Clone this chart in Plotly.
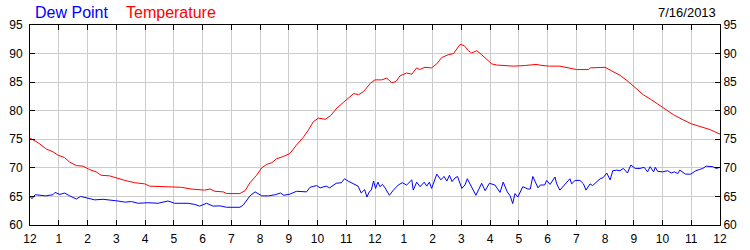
import plotly.graph_objects as go

# ---- data (hour of day, value) ----
temp_hours = [0.0, 0.28, 0.57, 0.8, 0.98, 1.2, 1.38, 1.61, 1.84, 2.07, 2.3, 2.48, 2.77, 3.0, 3.3,
              3.64, 3.99, 4.16, 4.91, 5.26, 5.6, 6.07, 6.26, 6.43, 6.72, 6.84, 7.3, 7.48, 7.65, 7.88,
              8.06, 8.23, 8.41, 8.58, 8.76, 8.93, 9.04, 9.27, 9.5, 9.68, 9.86, 10.03, 10.27, 10.45,
              10.68, 10.91, 11.08, 11.26, 11.43, 11.61, 11.84, 12.0, 12.23, 12.41, 12.58, 12.73,
              12.87, 13.1, 13.28, 13.45, 13.55, 13.74, 13.97, 14.15, 14.32, 14.55, 14.73, 14.87,
              14.96, 15.1, 15.25, 15.36, 15.54, 15.71, 15.89, 16.06, 16.23, 16.46, 16.81, 17.2,
              17.6, 17.84, 18.07, 18.43, 18.78, 19.01, 19.42, 19.5, 20.0, 20.23, 20.52, 20.81,
              21.04, 21.33, 21.62, 22.03, 22.38, 22.72, 23.01, 23.3, 23.65, 24.0]
temperature = [75.2, 74.4, 73.3, 72.8, 72.2, 71.8, 71.0, 70.4, 70.3, 69.7, 69.3, 68.7, 68.6, 68.2, 67.8,
               67.4, 67.2, 66.8, 66.7, 66.6, 66.3, 66.1, 66.3, 65.9, 65.8, 65.5, 65.5, 66.0, 67.4, 68.7,
               70.0, 70.6, 70.9, 71.6, 71.9, 72.2, 72.5, 74.0, 75.3, 76.6, 78.1, 78.7, 78.5, 79.1,
               80.5, 81.5, 82.2, 83.0, 82.8, 83.4, 84.8, 85.4, 85.4, 85.7, 84.9, 85.1,
               86.1, 86.6, 86.4, 87.5, 87.2, 87.6, 87.5, 88.2, 89.3, 89.8, 90.0, 91.1,
               91.6, 91.4, 90.5, 90.1, 90.5, 89.8, 89.0, 88.2, 88.0, 87.9, 87.8, 87.9,
               88.1, 87.9, 87.8, 87.8, 87.4, 87.2, 87.2, 87.5, 87.6, 87.0, 86.2, 85.1,
               84.1, 82.8, 81.9, 80.45, 79.3, 78.4, 77.7, 77.25, 76.7, 75.9]

dew_hours = [0.0, 0.07, 0.18, 0.5, 0.54, 0.8, 0.87, 1.04, 1.2, 1.38, 1.61, 1.76, 1.96, 2.25, 2.54,
             2.83, 3.06, 3.3, 3.53, 3.76, 4.1, 4.45, 4.8, 5.03, 5.5, 5.73, 5.9, 6.14, 6.37, 6.61,
             6.84, 7.3, 7.42, 7.65, 7.83, 8.06, 8.3, 8.53, 8.71, 8.83, 9.04, 9.27, 9.62, 9.74,
             9.97, 10.09, 10.3, 10.42, 10.65, 10.83, 10.94, 11.06, 11.23, 11.41, 11.52, 11.64,
             11.72, 11.8, 11.87, 11.95, 12.02, 12.1, 12.17, 12.26, 12.35, 12.5, 12.64, 12.81,
             12.95, 13.1, 13.28, 13.33, 13.45, 13.57, 13.71, 13.8, 13.89, 13.97, 14.15, 14.29,
             14.4, 14.5, 14.59, 14.68, 14.78, 14.87, 15.02, 15.13, 15.21, 15.36, 15.51, 15.71,
             15.83, 15.98, 16.17, 16.35, 16.46, 16.6, 16.7, 16.79, 16.87, 16.97, 17.14, 17.32,
             17.4, 17.49, 17.67, 17.75, 17.9, 17.97, 18.09, 18.26, 18.32, 18.43, 18.61, 18.78,
             18.84, 18.96, 19.13, 19.25, 19.34, 19.48, 19.57, 19.71, 19.83, 19.94, 20.06, 20.18,
             20.27, 20.41, 20.52, 20.64, 20.78, 20.9, 21.05, 21.22, 21.36, 21.48, 21.57, 21.69,
             21.75, 21.83, 22.0, 22.18, 22.3, 22.41, 22.53, 22.6, 22.8, 22.98, 23.16, 23.28,
             23.4, 23.52, 23.64, 23.75, 23.87, 24.0]
dew_point = [65.0, 64.6, 65.3, 65.2, 65.1, 65.3, 65.7, 65.35, 65.6, 65.1, 64.55, 65.0, 64.7, 64.4, 64.5,
             64.4, 64.2, 64.0, 64.1, 63.8, 63.9, 63.8, 64.2, 63.8, 63.8, 63.6, 63.3, 63.8, 63.3, 63.35,
             63.1, 63.1, 63.5, 65.1, 65.8, 65.1, 65.1, 65.3, 65.6, 65.2, 65.4, 65.9, 65.8, 66.6,
             66.9, 66.5, 66.8, 66.5, 67.3, 67.4, 68.1, 67.7, 67.2, 66.8, 65.6, 66.2,
             64.9, 65.8, 66.1, 67.7, 66.4, 67.5, 66.7, 67.1, 66.5, 65.2, 66.1, 67.0,
             67.4, 67.0, 67.9, 66.1, 67.5, 66.7, 67.5, 66.8, 67.5, 66.4, 68.9, 67.9,
             68.5, 67.7, 68.7, 67.6, 68.2, 68.5, 66.4, 67.0, 68.1, 66.7, 65.2, 67.3,
             66.0, 67.3, 67.0, 65.7, 67.5, 65.8, 65.1, 63.75, 65.5, 64.9, 66.7, 66.3,
             66.3, 68.5, 66.5, 67.0, 67.0, 67.8, 67.1, 68.4, 67.2, 66.1, 67.2, 68.1,
             67.2, 67.8, 67.8, 67.2, 66.1, 67.2, 66.9, 67.5, 68.1, 68.3, 69.1, 67.9,
             69.5, 69.6, 69.5, 69.9, 69.1, 70.5, 69.9, 69.9, 70.1, 69.3, 70.2, 69.3,
             70.1, 69.4, 69.3, 69.5, 69.1, 69.3, 69.0, 69.6, 68.9, 68.9, 69.5, 69.7,
             69.9, 70.3, 70.2, 70.2, 69.9, 70.1]

x_tick_vals = list(range(0, 25))
x_tick_text = ["12"] + [str(i) for i in range(1, 12)] + ["12"] + [str(i) for i in range(1, 12)] + ["12"]
y_tick_vals = [60, 65, 70, 75, 80, 85, 90, 95]
date_label = "7/16/2013"

FONT = "Liberation Sans, Arial, sans-serif"

fig = go.Figure()
fig.add_trace(go.Scatter(x=dew_hours, y=dew_point, mode="lines", name="Dew Point",
                         line=dict(color="#0000FF", width=1), yaxis="y"))
fig.add_trace(go.Scatter(x=temp_hours, y=temperature, mode="lines", name="Temperature",
                         line=dict(color="#FF0000", width=1), yaxis="y2"))

axis_common = dict(showline=True, linecolor="black", linewidth=1,
                   ticks="inside", ticklen=5, tickcolor="black", tickwidth=1,
                   tickfont=dict(family=FONT, size=12, color="black"), zeroline=False,
                   automargin=False)

fig.update_layout(
    width=750, height=250,
    margin=dict(l=30, r=30, t=25, b=25, pad=0, autoexpand=False),
    paper_bgcolor="white", plot_bgcolor="white",
    showlegend=False,
    xaxis=dict(range=[0, 24], tickmode="array", tickvals=x_tick_vals, ticktext=x_tick_text,
               showgrid=True, gridcolor="#CCCCCC", gridwidth=1, mirror="ticks",
               ticklabelstandoff=3, **axis_common),
    yaxis=dict(range=[60, 95], tickmode="array", tickvals=y_tick_vals,
               showgrid=True, gridcolor="#CCCCCC", gridwidth=1, mirror="ticks",
               ticklabelstandoff=4, **axis_common),
    yaxis2=dict(range=[60, 95], tickmode="array", tickvals=y_tick_vals, overlaying="y", side="right",
                showgrid=False, **axis_common),
    annotations=[
        dict(text="Dew Point", xref="paper", yref="paper", x=(33 - 30) / 690, y=1 + (25 - 12.5) / 200,
             xanchor="left", yanchor="middle", showarrow=False,
             font=dict(family=FONT, size=16, color="#0000FF")),
        dict(text="Temperature", xref="paper", yref="paper", x=(124 - 30) / 690, y=1 + (25 - 12.5) / 200,
             xanchor="left", yanchor="middle", showarrow=False,
             font=dict(family=FONT, size=16, color="#FF0000")),
        dict(text=date_label, xref="paper", yref="paper", x=(718 - 30) / 690, y=1 + (25 - 12.5) / 200,
             xanchor="right", yanchor="middle", showarrow=False,
             font=dict(family=FONT, size=13, color="black")),
    ],
)

fig.write_html("out.html")
